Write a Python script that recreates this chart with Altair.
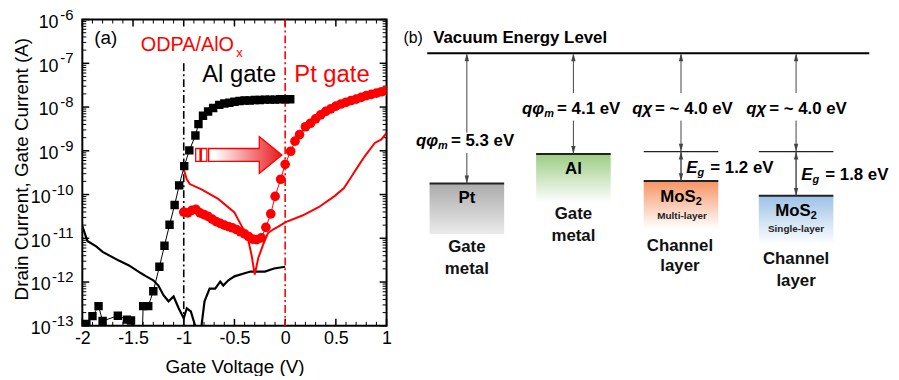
import altair as alt
import pandas as pd

FONT = "Liberation Sans"
RED = "#ff0000"
W, H = 307, 309

# ---------------- panel (a): transfer curves ----------------
# Al gate, drain current (black squares): gate voltage (V) / log10 current (A)
al_drain_v = [-1.96, -1.90, -1.84, -1.80, -1.65, -1.56, -1.52, -1.40, -1.35, -1.30, -1.24, -1.19,
              -1.14, -1.09, -1.045, -0.995, -0.945, -0.885, -0.855, -0.81, -0.76, -0.71, -0.65,
              -0.60, -0.55, -0.50, -0.45, -0.40, -0.35, -0.30, -0.25, -0.20, -0.15, -0.10, -0.05,
              0.00, 0.05]
al_drain_log = [-12.96, -12.78, -12.55, -12.89, -12.77, -12.86, -12.88, -12.55, -12.55, -12.21,
                -11.65, -11.17, -10.69, -10.24, -9.79, -9.35, -8.99, -8.65, -8.39, -8.20, -8.10,
                -8.02, -7.95, -7.92, -7.90, -7.88, -7.86, -7.85, -7.85, -7.84, -7.84, -7.83, -7.83,
                -7.83, -7.82, -7.82, -7.82]
# points of the same curve that fall below the frame (line only)
al_drain_below_v = [-1.47, -1.415]
al_drain_below_log = [-13.6, -13.6]

# Al gate, gate current (black line)
al_gate_v = [-2.00, -1.95, -1.86, -1.80, -1.64, -1.54, -1.42, -1.37, -1.30, -1.25, -1.20, -1.15,
             -1.10, -1.05, -1.00, -0.97, -0.93, -0.89, -0.875, -0.845, -0.825, -0.795, -0.745,
             -0.69, -0.64, -0.61, -0.56, -0.50, -0.40, -0.34, -0.20, -0.11, 0.00]
al_gate_log = [-10.72, -11.06, -11.19, -11.31, -11.51, -11.62, -11.80, -11.87, -11.96, -12.08,
               -12.30, -12.44, -12.33, -12.60, -12.83, -12.60, -12.67, -12.98, -13.6, -13.6,
               -13.0, -12.44, -12.15, -12.15, -11.99, -12.08, -11.96, -11.87, -11.80, -11.76,
               -11.76, -11.69, -11.65]

# Pt gate, drain current (red circles)
pt_drain_v = [-1.00, -0.96, -0.92, -0.88, -0.84, -0.80, -0.76, -0.72, -0.68, -0.64, -0.60, -0.56,
              -0.52, -0.48, -0.44, -0.40, -0.36, -0.32, -0.28, -0.235, -0.19, -0.142, -0.099,
              -0.044, 0.0, 0.054, 0.097, 0.142, 0.20, 0.25, 0.30, 0.35, 0.40, 0.45, 0.50, 0.55,
              0.60, 0.65, 0.70, 0.75, 0.80, 0.85, 0.90, 0.95, 1.00]
pt_drain_log = [-10.40, -10.42, -10.36, -10.34, -10.42, -10.46, -10.50, -10.56, -10.62, -10.66,
                -10.70, -10.73, -10.76, -10.80, -10.85, -10.90, -10.96, -11.02, -11.03, -10.99,
                -10.75, -10.44, -10.04, -9.65, -9.31, -9.01, -8.78, -8.63, -8.45, -8.37, -8.27,
                -8.18, -8.10, -8.04, -7.98, -7.93, -7.89, -7.85, -7.82, -7.78, -7.74, -7.71,
                -7.68, -7.65, -7.62]

# Pt gate, gate current (red line)
pt_gate_v = [-1.00, -0.97, -0.94, -0.825, -0.66, -0.50, -0.45, -0.37, -0.33, -0.30, -0.265, -0.22,
             -0.17, -0.12, -0.06, 0.005, 0.17, 0.33, 0.49, 0.58, 0.656, 0.72, 0.786, 0.884,
             0.949, 1.00]
pt_gate_log = [-9.42, -9.65, -9.76, -9.88, -10.10, -10.41, -10.63, -10.97, -11.40, -11.83, -11.45,
               -11.16, -10.88, -10.80, -10.72, -10.63, -10.48, -10.29, -10.03, -9.85, -9.58,
               -9.35, -9.12, -8.82, -8.74, -8.59]

# axes
x_tick_labels = [-2, -1.5, -1, -0.5, 0, 0.5, 1]
x_minor_ticks = [round(-2 + 0.1 * k, 1) for k in range(31)]
y_decades = [-13, -12, -11, -10, -9, -8, -7, -6]
y_minor_ticks = [m * 10.0 ** d for d in range(-13, -6) for m in range(2, 10)]

# annotations of panel (a): (V, log10 I)
gate_marker_v = [-1.0, 0.0]
gate_marker_top = [-7.0, -6.0]
gate_marker_color = ["black", RED]
shift_arrow_v = [-0.457]
shift_arrow_log = [-9.095]


def va(v, lg):
    return pd.DataFrame({"V": v, "I": [10.0 ** x for x in lg]})


xs = alt.Scale(domain=[-2, 1], nice=False, zero=False)
ys = alt.Scale(type="log", domain=[1e-13, 1e-6], nice=False)
x_axis = alt.Axis(values=x_tick_labels, labelExpr="'' + datum.value", ticks=False, domain=False,
                  grid=False, labelFont=FONT, labelFontSize=18, labelColor="black",
                  labelPadding=4, labelFlush=False, labelOverlap=False,
                  title="Gate Voltage (V)", titleFont=FONT, titleFontSize=19,
                  titleFontWeight="normal", titleColor="black", titlePadding=10)
X = alt.X("V:Q", scale=xs, axis=x_axis)
Y = alt.Y("I:Q", scale=ys, axis=None)

layers_a = []

# ticks inside the frame
ymaj = pd.DataFrame({"I": [10.0 ** d for d in y_decades]})
ymin = pd.DataFrame({"I": y_minor_ticks})
xmaj = pd.DataFrame({"V": x_tick_labels})
xmin = pd.DataFrame({"V": [v for v in x_minor_ticks if v not in x_tick_labels]})
for d, ln, sw in [(ymaj, 7, 1.5), (ymin, 4, 1.0)]:
    layers_a.append(alt.Chart(d).mark_rule(color="black", strokeWidth=sw).encode(
        x=alt.value(0), x2=alt.value(ln), y=Y))
    layers_a.append(alt.Chart(d).mark_rule(color="black", strokeWidth=sw).encode(
        x=alt.value(W - ln), x2=alt.value(W), y=Y))
for d, ln, sw in [(xmaj, 7, 1.5), (xmin, 4, 1.0)]:
    layers_a.append(alt.Chart(d).mark_rule(color="black", strokeWidth=sw).encode(
        x=X, y=alt.value(H), y2=alt.value(H - ln)))
    layers_a.append(alt.Chart(d).mark_rule(color="black", strokeWidth=sw).encode(
        x=X, y=alt.value(0), y2=alt.value(ln)))

# dash-dot marker lines
for v, top, col in zip(gate_marker_v, gate_marker_top, gate_marker_color):
    d = pd.DataFrame({"V": [v], "I": [10.0 ** top], "I2": [1e-13]})
    layers_a.append(alt.Chart(d).mark_rule(color=col, strokeWidth=1.6, strokeDash=[8, 3, 2, 3]).encode(
        x=X, y=Y, y2=alt.Y2("I2")))

# curves
layers_a.append(alt.Chart(va(al_gate_v, al_gate_log)).mark_line(
    color="black", strokeWidth=2.2, clip=True).encode(x=X, y=Y, order="V:Q"))
layers_a.append(alt.Chart(va(pt_gate_v, pt_gate_log)).mark_line(
    color=RED, strokeWidth=2.0, clip=True).encode(x=X, y=Y, order="V:Q"))
al_line = va(al_drain_v + al_drain_below_v, al_drain_log + al_drain_below_log).sort_values("V")
layers_a.append(alt.Chart(al_line).mark_line(
    color="black", strokeWidth=1.0, clip=True).encode(x=X, y=Y, order="V:Q"))
layers_a.append(alt.Chart(va(al_drain_v, al_drain_log)).mark_square(
    color="black", size=72, opacity=1, clip=True).encode(x=X, y=Y))
layers_a.append(alt.Chart(va(pt_drain_v, pt_drain_log)).mark_line(
    color=RED, strokeWidth=1.0, clip=True).encode(x=X, y=Y, order="V:Q"))
layers_a.append(alt.Chart(va(pt_drain_v, pt_drain_log)).mark_circle(
    color=RED, size=95, opacity=1, clip=True).encode(x=X, y=Y))

# hollow gradient arrow (threshold shift)
arrow_path = ("M-1,-0.15L-0.9,-0.15L-0.9,0.15L-1,0.15Z "
              "M-0.87,-0.15L-0.74,-0.15L-0.74,0.15L-0.87,0.15Z "
              "M-0.7,-0.15L0.475,-0.15L0.475,-0.425L1,0L0.475,0.425L0.475,0.15L-0.7,0.15Z")
arrow_grad = alt.LinearGradient(
    gradient="linear",
    stops=[alt.GradientStop(color="#ffffff", offset=0), alt.GradientStop(color="#ffffff", offset=0.22),
           alt.GradientStop(color="#e8181c", offset=1)],
    x1=0, x2=1, y1=0, y2=0)
layers_a.append(alt.Chart(va(shift_arrow_v, shift_arrow_log)).mark_point(
    shape=arrow_path, size=7569, filled=True, fill=arrow_grad, stroke=RED, strokeWidth=1.3,
    opacity=1, fillOpacity=1).encode(x=X, y=Y))

# panel (a) texts
def text_layer(v, lg, label, size, color, align="left", dy=0):
    d = va([v], [lg]).assign(t=[label])
    return alt.Chart(d).mark_text(font=FONT, fontSize=size, color=color, align=align,
                                  baseline="middle", dy=dy).encode(x=X, y=Y, text="t:N")

layers_a.append(text_layer(-1.883, -6.43, "(a)", 19, "black"))
layers_a.append(text_layer(-1.424, -6.59, "ODPA/AlO", 20, RED))
layers_a.append(text_layer(-0.482, -6.77, "x", 13, RED))
layers_a.append(text_layer(-0.818, -7.27, "Al gate", 24, "black"))
layers_a.append(text_layer(0.09, -7.27, "Pt gate", 24, RED))

# y tick labels: "10" with superscript exponent
ylab = pd.DataFrame({"I": [10.0 ** d for d in y_decades], "e": [str(d) for d in y_decades]})
short = ylab[ylab["e"].str.len() == 2]
long_ = ylab[ylab["e"].str.len() == 3]
for d, base_x in [(short, -24), (long_, -32)]:
    layers_a.append(alt.Chart(d).mark_text(font=FONT, fontSize=18, color="black", align="right",
                                           baseline="middle", dy=3.5).encode(
        x=alt.value(base_x), y=Y, text=alt.value("10")))
    layers_a.append(alt.Chart(d).mark_text(font=FONT, fontSize=15, color="black", align="right",
                                           baseline="middle", dy=-5).encode(
        x=alt.value(-9), y=Y, text="e:N"))

layers_a.append(alt.Chart(pd.DataFrame({"t": ["Drain Current, Gate Current (A)"]})).mark_text(
    font=FONT, fontSize=19, color="black", angle=270, align="center", baseline="middle").encode(
    x=alt.value(-61), y=alt.value(151), text="t:N"))

panel_a = alt.layer(*layers_a)

# ---------------- panel (b): energy band diagram ----------------
# columns: Pt gate, Al gate, MoS2 multi-layer, MoS2 single-layer (x in column units)
col_x = [0.0, 1.0, 2.01, 3.09]
level_top = [-5.3, -4.1, -5.2, -5.8]         # eV below vacuum (metal Fermi level / valence band)
box_depth = [2.06, 1.98, 1.94, 1.98]
box_colors = [("#ababab", "#ebebeb"), ("#9ccc84", "#ffffff"), ("#f79463", "#ffffff"),
              ("#9cc2e6", "#ffffff")]
cond_band = [-4.0, -4.0]                     # MoS2 conduction band (multi, single)
cb_cols = [2, 3]
arrow_upper_end = [-3.23, -1.62, -1.62, -1.62]
arrow_lower_start = [-4.06, -2.74, -2.74, -2.74]
half_w = 0.35

xbs = alt.Scale(domain=[-3.609, -0.7535], nice=False, zero=False)
ybs = alt.Scale(domain=[-11.09, 1.371], nice=False, zero=False)
XB = alt.X("u:Q", scale=xbs, axis=None)
YB = alt.Y("E:Q", scale=ybs, axis=None)

layers_b = []
# gradient boxes
for cx, top, dep, (c1, c2) in zip(col_x, level_top, box_depth, box_colors):
    d = pd.DataFrame({"u": [cx - half_w], "u2": [cx + half_w], "E": [top], "E2": [top - dep]})
    g = alt.LinearGradient(gradient="linear",
                           stops=[alt.GradientStop(color=c1, offset=0),
                                  alt.GradientStop(color=c2, offset=1)],
                           x1=0, x2=0, y1=0, y2=1)
    layers_b.append(alt.Chart(d).mark_rect(fill=g, opacity=1).encode(
        x=XB, x2=alt.X2("u2"), y=YB, y2=alt.Y2("E2")))

# vacuum level
layers_b.append(alt.Chart(pd.DataFrame({"u": [-0.372], "u2": [3.777], "E": [0.0]})).mark_rule(
    color="black", strokeWidth=2.2).encode(x=XB, x2=alt.X2("u2"), y=YB))
# level lines
lv = pd.DataFrame({"u": [c - half_w for c in col_x], "u2": [c + half_w for c in col_x], "E": level_top})
layers_b.append(alt.Chart(lv).mark_rule(color="#222222", strokeWidth=2).encode(
    x=XB, x2=alt.X2("u2"), y=YB))
cb = pd.DataFrame({"u": [col_x[i] - half_w for i in cb_cols],
                   "u2": [col_x[i] + half_w for i in cb_cols], "E": cond_band})
layers_b.append(alt.Chart(cb).mark_rule(color="#222222", strokeWidth=1.2).encode(
    x=XB, x2=alt.X2("u2"), y=YB))

# work function / affinity arrows
seg_u, seg_e, seg_e2 = [], [], []
for i, cx in enumerate(col_x):
    arrow_target = level_top[i] if i < 2 else -4.0
    seg_u += [cx, cx]
    seg_e += [-0.05, arrow_lower_start[i]]
    seg_e2 += [arrow_upper_end[i], arrow_target]
segs = pd.DataFrame({"u": seg_u, "E": seg_e, "E2": seg_e2})
layers_b.append(alt.Chart(segs).mark_rule(color="#444444", strokeWidth=1).encode(
    x=XB, y=YB, y2=alt.Y2("E2")))
# band gap arrows
eg = pd.DataFrame({"u": [col_x[i] for i in cb_cols], "E": cond_band,
                   "E2": [level_top[i] for i in cb_cols]})
layers_b.append(alt.Chart(eg).mark_rule(color="#444444", strokeWidth=1.4).encode(
    x=XB, y=YB, y2=alt.Y2("E2")))

up_shape = "M0,-1L0.55,1L-0.55,1Z"
down_shape = "M0,1L0.55,-1L-0.55,-1Z"
head_off = 0.16
ups = pd.DataFrame({"u": col_x + [col_x[i] for i in cb_cols],
                    "E": [-head_off] * 4 + [c - head_off for c in cond_band]})
downs = pd.DataFrame({"u": col_x + [col_x[i] for i in cb_cols],
                      "E": [level_top[0] + head_off, level_top[1] + head_off,
                            cond_band[0] + head_off, cond_band[1] + head_off]
                           + [level_top[i] + head_off for i in cb_cols]})
for d, shp in [(ups, up_shape), (downs, down_shape)]:
    layers_b.append(alt.Chart(d).mark_point(shape=shp, size=64, filled=True, color="#444444",
                                            opacity=1).encode(x=XB, y=YB))

# labels with symbols
sub_labels = pd.DataFrame({
    "u": [-0.149, 0.847, 2.285, 3.364], "E": [-3.59, -2.26, -4.68, -4.96],
    "sym": ["qφ", "qφ", "E", "E"], "sub": ["m", "m", "g", "g"],
    "rest": ["= 5.3 eV", "= 4.1 eV", "= 1.2 eV", "= 1.8 eV"]})
plain_labels = pd.DataFrame({
    "u": [1.767, 2.837], "E": [-2.26, -2.26], "sym": ["qχ", "qχ"],
    "rest": ["= ~ 4.0 eV", "= ~ 4.0 eV"]})
layers_b.append(alt.Chart(sub_labels).mark_text(
    font=FONT, fontSize=17, fontWeight="bold", fontStyle="italic", align="right",
    baseline="middle", dx=-13, color="black").encode(x=XB, y=YB, text="sym:N"))
layers_b.append(alt.Chart(sub_labels).mark_text(
    font=FONT, fontSize=11, fontWeight="bold", fontStyle="italic", align="left",
    baseline="middle", dx=-13, dy=5, color="black").encode(x=XB, y=YB, text="sub:N"))
layers_b.append(alt.Chart(plain_labels).mark_text(
    font=FONT, fontSize=17, fontWeight="bold", fontStyle="italic", align="right",
    baseline="middle", dx=-3, color="black").encode(x=XB, y=YB, text="sym:N"))
for d in (sub_labels, plain_labels):
    layers_b.append(alt.Chart(d).mark_text(
        font=FONT, fontSize=17, fontWeight="bold", align="left", baseline="middle",
        color="black").encode(x=XB, y=YB, text="rest:N"))

# box labels
box_names = pd.DataFrame({"u": [col_x[0], col_x[1]], "E": [-5.89, -4.72], "t": ["Pt", "Al"]})
layers_b.append(alt.Chart(box_names).mark_text(
    font=FONT, fontSize=17, fontWeight="bold", align="center", baseline="middle",
    color="black").encode(x=XB, y=YB, text="t:N"))
mos2 = pd.DataFrame({"u": [2.149, 3.228], "E": [-5.87, -6.41], "t": ["MoS", "MoS"], "s": ["2", "2"]})
layers_b.append(alt.Chart(mos2).mark_text(
    font=FONT, fontSize=17, fontWeight="bold", align="right", baseline="middle",
    color="black").encode(x=XB, y=YB, text="t:N"))
layers_b.append(alt.Chart(mos2).mark_text(
    font=FONT, fontSize=11, fontWeight="bold", align="left", baseline="middle", dy=5,
    color="black").encode(x=XB, y=YB, text="s:N"))
layer_kind = pd.DataFrame({"u": [2.02, 3.09], "E": [-6.61, -7.14], "t": ["Multi-layer", "Single-layer"]})
layers_b.append(alt.Chart(layer_kind).mark_text(
    font=FONT, fontSize=10, fontWeight="bold", align="center", baseline="middle",
    color="#222222").encode(x=XB, y=YB, text="t:N"))

role_labels = pd.DataFrame({
    "u": [col_x[0], col_x[0], col_x[1], col_x[1], 2.0, 2.0, 3.09, 3.09],
    "E": [-7.9, -8.79, -6.53, -7.42, -7.86, -8.67, -8.39, -9.27],
    "t": ["Gate", "metal", "Gate", "metal", "Channel", "layer", "Channel", "layer"]})
layers_b.append(alt.Chart(role_labels).mark_text(
    font=FONT, fontSize=17, fontWeight="bold", align="center", baseline="middle",
    color="#111111").encode(x=XB, y=YB, text="t:N"))

header = pd.DataFrame({"u": [-0.595], "E": [0.605], "t": ["(b)"]})
layers_b.append(alt.Chart(header).mark_text(
    font=FONT, fontSize=16, align="left", baseline="middle", color="black").encode(
    x=XB, y=YB, text="t:N"))
header2 = pd.DataFrame({"u": [-0.316], "E": [0.605], "t": ["Vacuum Energy Level"]})
layers_b.append(alt.Chart(header2).mark_text(
    font=FONT, fontSize=17, fontWeight="bold", align="left", baseline="middle",
    color="black").encode(x=XB, y=YB, text="t:N"))

panel_b = alt.layer(*layers_b)

chart = alt.layer(panel_a, panel_b).resolve_scale(x="independent", y="independent").properties(
    width=W, height=H,
    autosize=alt.AutoSizeParams(type="none"),
    padding={"left": 75, "top": 10, "right": 509, "bottom": 49},
    background="white",
).configure_view(stroke="black", strokeWidth=2)

chart.save("out.html", embed_options={"renderer": "svg", "actions": False})
